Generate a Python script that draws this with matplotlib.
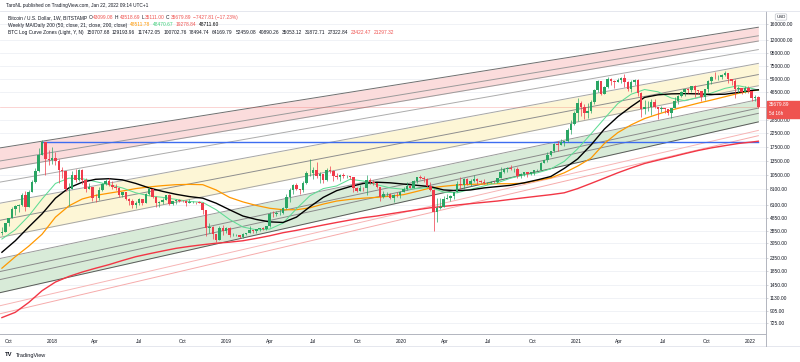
import matplotlib
matplotlib.use('Agg')
import matplotlib.pyplot as plt
import matplotlib.dates as mdates
from matplotlib.patches import Rectangle
import numpy as np
import datetime as dt

plt.rcParams['font.family'] = ['Liberation Sans', 'DejaVu Sans']

# ---------------- data ----------------
first_week = dt.date(2017, 9, 18)
first_open = 3690.0
close = [3780, 4370, 4820, 5680, 6000, 6130, 7360, 5880, 7780, 9300,
         11250, 15000, 19100, 14100, 13800, 14200, 13600, 11500, 11200, 8100,
         8100, 10400, 9600, 11500, 9500, 8200, 8500, 6950, 6900, 8050,
         8900, 9400, 8700, 8500, 8250, 7350, 7700, 6750, 6500, 6150,
         6350, 6740, 6360, 7400, 8200, 7030, 6300, 6400, 6700, 7300,
         6250, 6500, 6700, 6600, 6580, 6290, 6400, 6410, 6400, 6350,
         5560, 4000, 4100, 3600, 3250, 4000, 3850, 4050, 3550, 3560,
         3560, 3430, 3630, 3670, 3860, 3790, 3950, 4000, 3990, 4150,
         5180, 5150, 5300, 5300, 5750, 7000, 8000, 8700, 8100, 7950,
         9000, 10800, 10800, 11450, 10200, 10700, 9500, 11450, 11300, 10200,
         10150, 10400, 10300, 10300, 10050, 8300, 7850, 8300, 8230, 9550,
         9300, 9050, 8500, 7050, 7400, 7500, 6900, 7350, 7250, 7750,
         8100, 8650, 8350, 9330, 10150, 9900, 9670, 8550, 8000, 5350,
         5800, 5880, 6780, 6900, 7150, 7700, 8900, 8750, 9700, 8900,
         9450, 9750, 9350, 9300, 9000, 9080, 9230, 9160, 9950, 11100,
         11670, 11900, 11650, 11700, 10250, 10680, 11080, 10730, 11060, 11380,
         11500, 13030, 13750, 15000, 16050, 18400, 18150, 19150, 19250, 23800,
         26300, 32200, 38200, 36000, 32250, 33500, 38900, 48600, 57400, 45200,
         51200, 59000, 57500, 55900, 57800, 59800, 56200, 49100, 56600, 58300,
         46400, 34700, 35600, 35800, 39100, 35500, 34700, 35300, 34250, 31800,
         35400, 39800, 43800, 47100, 49300, 48800, 51800, 48300, 47300, 42900,
         49200, 57500, 61500, 61300, 61300, 63300, 65500, 59700, 57300, 49400,
         50100, 46700, 50800, 47300, 41800, 43099.08, 35679.89]
high = [4120, 4410, 4860, 5850, 6120, 6260, 7590, 7880, 8050, 9550,
        11800, 17170, 19666, 19000, 16500, 17250, 16000, 14000, 12000, 11300,
        9000, 11300, 11700, 11700, 11700, 9950, 9100, 8500, 7500, 8450,
        9000, 9750, 9950, 9400, 8900, 8400, 7750, 7770, 6900, 6830,
        6500, 6880, 6790, 7530, 8500, 8200, 7150, 6600, 6900, 7350,
        7420, 6560, 6800, 6800, 6680, 6720, 6850, 6510, 6480, 6550,
        6450, 5600, 4400, 4200, 3600, 4180, 4230, 4100, 4100, 3700,
        3640, 3560, 3680, 3700, 4200, 3900, 3970, 4050, 4090, 4170,
        5350, 5460, 5460, 5630, 5900, 7500, 8300, 8900, 9050, 8180,
        9350, 11200, 13880, 12000, 13150, 11100, 10650, 11950, 12300, 11500,
        10950, 10650, 10950, 10450, 10350, 10050, 8500, 8800, 8400, 10500,
        9950, 9500, 9100, 8500, 7850, 7750, 7620, 7500, 7700, 7850,
        8450, 9200, 8800, 9550, 10180, 10500, 10250, 9950, 9180, 8200,
        6900, 6950, 7200, 7470, 7300, 7750, 9450, 10050, 9950, 9900,
        9750, 10400, 10000, 9600, 9800, 9300, 9450, 9350, 10000, 12000,
        11900, 12100, 12450, 11800, 12050, 10800, 11150, 11000, 11100, 11500,
        11750, 13350, 13850, 15950, 16300, 18800, 19400, 19900, 19450, 24300,
        28400, 33400, 41950, 40100, 37800, 38500, 40900, 49700, 58300, 57500,
        52600, 61700, 60600, 58600, 60200, 61200, 64800, 57400, 57900, 59500,
        59600, 46600, 40800, 39500, 41300, 41300, 36000, 36600, 35100, 34600,
        35400, 42600, 44700, 48100, 49400, 50500, 51900, 52900, 48800, 47400,
        49300, 57800, 62800, 67000, 63200, 64400, 69000, 66300, 59200, 59100,
        51900, 50000, 51900, 52100, 47600, 44500, 43518.69]
low = [3560, 3720, 4140, 4800, 5110, 5380, 6030, 5500, 5840, 7770,
       9090, 11100, 15000, 10400, 12500, 12750, 12500, 9000, 10000, 7800,
       6000, 8100, 9300, 9400, 8900, 7700, 8100, 6500, 6450, 6650,
       7850, 8700, 8600, 8200, 7950, 7100, 7050, 6650, 6120, 5780,
       5780, 6150, 6100, 6350, 7350, 6900, 5900, 5900, 6250, 6700,
       6120, 6130, 6200, 6450, 6470, 6000, 6350, 6370, 6250, 6300,
       5200, 3500, 3680, 3300, 3150, 3230, 3550, 3650, 3450, 3470,
       3480, 3350, 3380, 3550, 3650, 3690, 3700, 3830, 3900, 3920,
       4100, 4910, 4990, 5050, 5170, 5700, 6400, 7500, 8000, 7450,
       7650, 8950, 10300, 9700, 9900, 9100, 9100, 9400, 10900, 9450,
       9800, 9350, 10000, 9900, 9800, 7700, 7700, 7850, 7850, 7300,
       8950, 8700, 8350, 6550, 6900, 7200, 6850, 6450, 7050, 6900,
       7700, 8050, 8250, 8350, 9150, 9750, 9300, 8500, 7900, 3850,
       4450, 5700, 5850, 6750, 6500, 6800, 7680, 8100, 8100, 8800,
       8650, 9200, 8900, 9000, 8850, 8900, 9050, 9050, 9100, 9950,
       10900, 11100, 11400, 11150, 9900, 9850, 10200, 10150, 10400, 10500,
       11200, 11400, 12950, 13200, 14800, 15800, 16200, 18000, 17600, 19000,
       21800, 25900, 27800, 30400, 28800, 29200, 32300, 37900, 47200, 44000,
       45100, 50300, 53200, 50400, 55700, 55500, 51000, 47500, 47100, 52900,
       43800, 30000, 31300, 33400, 31100, 34800, 28800, 32700, 32100, 31000,
       29300, 34800, 37500, 42800, 43900, 46400, 46500, 42800, 44800, 39600,
       40800, 47100, 53900, 59600, 57900, 59400, 62300, 55600, 53300, 42000,
       46300, 45500, 45600, 45800, 39700, 39600, 35111.00]

# moving averages, sampled every 4 weeks (+ last bar)
ma_weeks = list(range(0, 225, 4)) + [226]
ma50w = [1950, 2400, 2900, 3600, 4900, 6000, 6800, 7250, 7550, 7850,
         8200, 8450, 8650, 8800, 8850, 8800, 8000, 7000, 6450, 6050,
         5750, 5600, 5600, 5800, 6200, 6550, 6750, 6900, 7000, 7150,
         7350, 7800, 8300, 8550, 8750, 8850, 8900, 8950, 8950, 9050,
         9500, 9950, 10900, 12300, 14200, 18500, 22500, 25900, 29000, 31400,
         33800, 36000, 38300, 40500, 43000, 45700, 47800, 48511.78]
ma21w = [3300, 3900, 5000, 6800, 9000, 9900, 9800, 9300, 8800, 8300,
         7600, 7200, 7000, 6750, 6500, 6400, 5600, 4700, 4100, 3900,
         3950, 4400, 5700, 7200, 8200, 8600, 9700, 9400, 8800, 8300,
         8100, 8200, 8400, 7700, 7600, 8100, 8600, 9100, 9900, 10500,
         10900, 11700, 13400, 16800, 22000, 29000, 38000, 45000, 49000, 47000,
         42000, 40000, 42500, 46000, 50000, 52500, 50000, 48470.67]
ma200w = [800, 880, 1050, 1300, 1520, 1680, 1820, 1950, 2080, 2240,
          2400, 2530, 2660, 2790, 2890, 2980, 3060, 3120, 3200, 3340,
          3500, 3700, 3860, 4050, 4250, 4450, 4650, 4850, 5000, 5200,
          5400, 5600, 5800, 5950, 6100, 6250, 6400, 6550, 6750, 6950,
          7150, 7350, 7600, 8200, 9000, 9900, 10900, 11900, 12900, 13700,
          14500, 15400, 16300, 17100, 17800, 18500, 19000, 19278.84]
ma200d = [2600, 3200, 4100, 5200, 6900, 8300, 9200, 9700, 9800, 9600,
          9000, 8300, 7800, 7400, 7100, 6900, 6300, 5600, 5000, 4700,
          4500, 4450, 4900, 5900, 7000, 7900, 8500, 9000, 9200, 9100,
          8900, 8700, 8500, 8000, 7900, 8000, 8300, 8500, 8700, 9100,
          9600, 10200, 11800, 14000, 18000, 24000, 30000, 36000, 42500, 44500,
          45300, 45500, 45300, 44800, 45000, 46500, 48200, 48711.60]

# BTC log curve zone lines: value at left edge and at last bar
zone_dates = [dt.date(2017, 9, 11), dt.date(2022, 1, 17)]
zone_start = [17015, 13440, 11620, 9178, 6273, 4606, 3385, 2312, 1826, 1579,
              1247, 985, 852]
zone_end = [150707.68, 129193.96, 117472.05, 100702.76, 78494.74, 64169.79,
            52459.08, 40890.26, 35053.12, 31872.71, 27322.84, 23422.47, 21297.32]

ath_level = 19000
ath_week = 12

y_ticks = [160000, 120000, 95000, 75000, 59000, 46500, 28500, 22500, 17500,
           13500, 10500, 8100, 6100, 4850, 3850, 3050, 2350, 1850, 1450, 1130,
           905, 725]
x_tick_dates = [dt.date(2017, 10, 1), dt.date(2018, 1, 1), dt.date(2018, 4, 1),
                dt.date(2018, 7, 1), dt.date(2018, 10, 1), dt.date(2019, 1, 1),
                dt.date(2019, 4, 1), dt.date(2019, 7, 1), dt.date(2019, 10, 1),
                dt.date(2020, 1, 1), dt.date(2020, 4, 1), dt.date(2020, 7, 1),
                dt.date(2020, 10, 1), dt.date(2021, 1, 1), dt.date(2021, 4, 1),
                dt.date(2021, 7, 1), dt.date(2021, 10, 1), dt.date(2022, 1, 1)]
x_tick_labels = ['Oct', '2018', 'Apr', 'Jul', 'Oct', '2019', 'Apr', 'Jul', 'Oct',
                 '2020', 'Apr', 'Jul', 'Oct', '2021', 'Apr', 'Jul', 'Oct', '2022']

# ---------------- figure ----------------
W, H = 800, 362
fig = plt.figure(figsize=(W / 100, H / 100), dpi=100)
fig.patch.set_facecolor('white')
ax_left, ax_right, ax_top, ax_bot = 0, 766, 11, 334
ax = fig.add_axes([ax_left / W, 1 - ax_bot / H, (ax_right - ax_left) / W, (ax_bot - ax_top) / H])
ax.set_yscale('log')

dates = [first_week + dt.timedelta(weeks=i) for i in range(len(close))]
xd = mdates.date2num(dates)
opens = [first_open] + close[:-1]
o = np.array(opens, float); c = np.array(close, float)
h = np.array(high, float); l = np.array(low, float)

# zones
zx = mdates.date2num(zone_dates)
zs = np.array(zone_start); ze = np.array(zone_end)
def zline(k):
    return [zs[k], ze[k]]
ax.fill_between(zx, zline(0), zline(2), color='#fbdcdc', lw=0, zorder=1)
ax.fill_between(zx, zline(4), zline(6), color='#fdf6d6', lw=0, zorder=1)
ax.fill_between(zx, zline(7), zline(10), color='#d8ebd8', lw=0, zorder=1)
zone_colors = ['#6f6f6f', '#9a9a9a', '#9a9a9a', '#acacac', '#a6a6a6', '#8e8e8e', '#a6a6a6',
               '#9a9a9a', '#8a8a8a', '#8a8a8a', '#5a5a5a', '#f7b5b5', '#f6abab']
for k in range(len(zs)):
    ax.plot(zx, zline(k), color=zone_colors[k], lw=0.7, zorder=2)

# grid
for v in y_ticks:
    ax.axhline(v, color='#eef0f5', lw=0.6, zorder=0)

# ATH line
ax.plot([xd[ath_week], xd[-1]], [ath_level, ath_level], color='#3d6cf0', lw=1.0, zorder=3)

# price line
ax.axhline(close[-1], color='#ef5350', lw=0.5, alpha=0.35, zorder=2)

# moving averages
mx = xd[ma_weeks]
ax.plot(mx, ma200w, color='#f23645', lw=1.0, zorder=4)
ax.plot(mx, ma50w, color='#ff9800', lw=0.9, zorder=4)
ax.plot(mx, ma21w, color='#5fdc95', lw=0.75, zorder=4)
ax.plot(mx, ma200d, color='#000000', lw=1.0, zorder=4)

# candles
up = c >= o
colors = np.where(up, '#2aa564', '#ef3b4a')
ax.vlines(xd, l, h, colors=colors, lw=0.5, zorder=5)
body_lo = np.minimum(o, c)
body_h = np.maximum(np.abs(c - o), body_lo * 0.004)
ax.bar(xd, body_h, bottom=body_lo, width=5.2, color=colors, lw=0, zorder=6)

# axes limits
ax.set_ylim(595, 202000)
ax.set_xlim(mdates.date2num(dt.date(2017, 9, 14)), mdates.date2num(dt.date(2022, 2, 2)))

# y ticks on the right
ax.yaxis.tick_right()
ax.set_yticks(y_ticks)
ax.set_yticklabels([f'{v:.2f}' for v in y_ticks])
ax.yaxis.set_minor_locator(matplotlib.ticker.NullLocator())
ax.tick_params(axis='y', labelsize=3.5, length=1.5, width=0.4, pad=1.2,
               colors='#b2b5be', labelcolor='#131722')
ax.set_xticks(mdates.date2num(x_tick_dates))
ax.set_xticklabels(x_tick_labels)
ax.tick_params(axis='x', labelsize=3.5, length=0, pad=3.5, labelcolor='#131722')
for s in ['top', 'left']:
    ax.spines[s].set_visible(False)
ax.spines['right'].set_color('#b2b5be'); ax.spines['right'].set_linewidth(0.7)
ax.spines['bottom'].set_color('#b2b5be'); ax.spines['bottom'].set_linewidth(0.7)

# frame lines
def hline_px(y, x0, x1, color, lw=0.6):
    fig.add_artist(plt.Line2D([x0 / W, x1 / W], [1 - y / H, 1 - y / H], color=color, lw=lw))
def vline_px(x, y0, y1, color, lw=0.6):
    fig.add_artist(plt.Line2D([x / W, x / W], [1 - y0 / H, 1 - y1 / H], color=color, lw=lw))
hline_px(11, 0, 800, '#e0e3eb')
hline_px(346, 0, 800, '#e0e3eb')
vline_px(766, 334, 346, '#b2b5be', 0.7)

# price label
fig.add_artist(Rectangle((767 / W, 1 - 118 / H), 33 / W, 17 / H, color='#ef5350', transform=fig.transFigure))
fig.text(769 / W, 1 - 105 / H, '35679.89', color='white', fontsize=3.5, va='center', ha='left')
fig.text(769 / W, 1 - 113.5 / H, '5d 16h', color='white', fontsize=3.3, va='center', ha='left')
fig.text(781 / W, 1 - 17 / H, 'USD', color='#131722', fontsize=3.2, va='center', ha='center',
         bbox=dict(boxstyle='round,pad=0.25', fc='white', ec='#b2b5be', lw=0.4))

# header / legend texts
fig.canvas.draw()
rend = fig.canvas.get_renderer()
def chain(x, y, parts, size, gap):
    for s, col in parts:
        t = fig.text(x / W, 1 - y / H, s, color=col, fontsize=size, va='center', ha='left')
        bb = t.get_window_extent(renderer=rend)
        x = bb.x1 + gap

fig.text(6 / W, 1 - 5.5 / H, 'TaroNL published on TradingView.com, Jan 22, 2022 09:14 UTC+1',
         color='#131722', fontsize=3.4, va='center', ha='left')
red = '#ef5350'; dark = '#131722'
chain(8, 17.3, [('Bitcoin / U.S. Dollar, 1W, BITSTAMP', dark), ('O', dark), ('43099.08', red),
                ('H', dark), ('43518.69', red), ('L', dark), ('35111.00', red), ('C', dark),
                ('35679.89', red), ('\u22127427.81 (\u221217.23%)', red)], 3.5, 1.2)
chain(8, 25.0, [('Weekly MA/Daily 200 (50, close, 21, close, 200, close)', dark),
                ('48511.78', '#ff9800'), ('48470.67', '#3ccf78'), ('19278.84', red),
                ('48711.60', '#000000')], 3.5, 2.5)
zone_parts = [('BTC Log Curve Zones (Light, Y, N)', dark)]
for k, v in enumerate(zone_end):
    zone_parts.append((f'{v:.2f}', red if k >= 11 else dark))
chain(8, 32.7, zone_parts, 3.5, 2.5)

# TradingView logo
fig.text(5 / W, 1 - 355 / H, 'TV', color='#131722', fontsize=4.2, fontweight='bold', va='center', ha='left')
fig.text(15.5 / W, 1 - 355 / H, 'TradingView', color='#131722', fontsize=4.0, va='center', ha='left')

fig.savefig('out.png', dpi=100)
